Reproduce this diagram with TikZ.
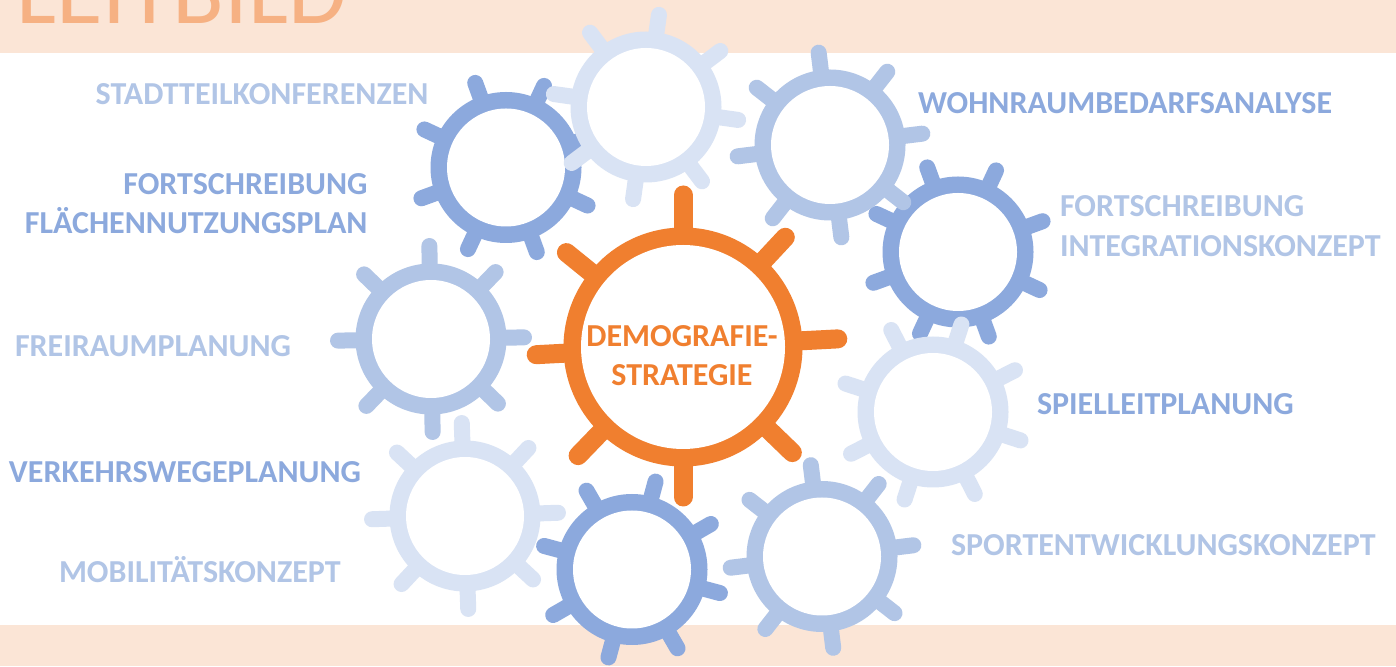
\documentclass[tikz,border=0pt]{standalone}
\usepackage{fontspec}
\setmainfont{Carlito}
\usetikzlibrary{calc}
\definecolor{band}{HTML}{FBE5D6}
\definecolor{titlec}{HTML}{F6B183}
\definecolor{lightb}{HTML}{D9E3F4}
\definecolor{midb}{HTML}{B1C5E6}
\definecolor{darkb}{HTML}{8CA9DD}
\definecolor{oran}{HTML}{F07F2F}
% #1 x, #2 y (image coordinates), #3 colour, #4 angle offset, #5 tooth width, #6 inner r, #7 outer r, #8 tip r
\newcommand\gearshape[8]{%
  \begin{scope}[shift={(#1,{666-#2})}]
    \foreach \a in {0,45,...,315}
      \draw[color=#3,line width=#5pt,line cap=round] (\a+#4:#7-4) -- (\a+#4:#8-#5/2);
    \fill[#3] (0,0) circle[radius=#7];
    \fill[white] (0,0) circle[radius=#6];
  \end{scope}}
\tikzset{
  lbl/.style={font=\bfseries\fontsize{32}{32}\selectfont,inner sep=0pt,outer sep=0pt},
  lblm/.style={lbl,text=midb},
  lbld/.style={lbl,text=darkb},
  lblo/.style={lbl,text=oran,anchor=base}
}
\begin{document}
\begin{tikzpicture}[x=1pt,y=1pt]
\useasboundingbox (0,0) rectangle (1396,666);
\clip (0,0) rectangle (1396,666);
\fill[white] (0,0) rectangle (1396,666);
\fill[band] (0,613) rectangle (1396,666);
\fill[band] (0,0) rectangle (1396,41);
\node[anchor=base west,inner sep=0pt,text=titlec,font=\fontsize{95}{95}\selectfont] (title) at (16,642) {LEITBILD};
% gears
\gearshape{506}{167.5}{darkb}{20}{16}{59}{75.5}{98}
\gearshape{958}{252}{darkb}{20}{16}{59}{75.5}{98}
\gearshape{830}{145}{midb}{7}{16}{59}{75.5}{101}
\gearshape{646}{107}{lightb}{-8}{16}{59}{75.5}{101}
\gearshape{431}{339}{midb}{1}{16}{59}{75.5}{101}
\gearshape{465}{516}{lightb}{2}{16}{59}{75.5}{101}
\gearshape{933}{412}{lightb}{27}{16}{59}{75.5}{100}
\gearshape{632}{569.5}{darkb}{30}{16}{59}{75.5}{99}
\gearshape{822}{556.5}{midb}{7}{16}{59}{75.5}{100}
% central gear
\begin{scope}[shift={(683,319)}]
  \foreach \a/\r in {90/152,47/150,3/155,-44/152,-90/150,-134/151,183/147,141/150}
    \draw[color=oran,line width=19pt,line cap=round] (\a:115) -- (\a:\r);
  \fill[oran] (0,0) circle[radius=119.5];
  \fill[white] (0,0) circle[radius=102];
\end{scope}
% labels
\node[lblm,anchor=base east] (stadt) at (428.5,561) {STADTTEILKONFERENZEN};
\node[lbld,anchor=base east] (fort1) at (367.5,471) {FORTSCHREIBUNG};
\node[lbld,anchor=base east] (fnp) at (367.5,432) {FLÄCHENNUTZUNGSPLAN};
\node[lblm,anchor=base west] (frei) at (15,309) {FREIRAUMPLANUNG};
\node[lbld,anchor=base west] (verk) at (9,183) {VERKEHRSWEGEPLANUNG};
\node[lblm,anchor=base west] (mob) at (59,83) {MOBILITÄTSKONZEPT};
\node[lbld,anchor=base west] (wohn) at (918,552) {WOHNRAUMBEDARFSANALYSE};
\node[lblm,anchor=base west] (fort2) at (1060,449) {FORTSCHREIBUNG};
\node[lblm,anchor=base west] (integ) at (1060,409) {INTEGRATIONSKONZEPT};
\node[lbld,anchor=base west] (spiel) at (1037,251) {SPIELLEITPLANUNG};
\node[lblm,anchor=base west] (sport) at (951,110) {SPORTENTWICKLUNGSKONZEPT};
\node[lblo] (demo) at (682,319) {DEMOGRAFIE-};
\node[lblo] (strat) at (682,280) {STRATEGIE};
\end{tikzpicture}
\end{document}
